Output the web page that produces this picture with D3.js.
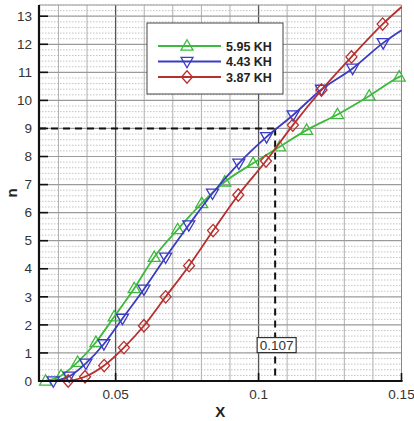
<!DOCTYPE html>
<html><head><meta charset="utf-8">
<script src="https://cdn.jsdelivr.net/npm/d3@7"></script>
<style>
html,body{margin:0;padding:0;background:#fff;}
svg{display:block;font-family:"Liberation Sans",Arial,sans-serif;}
</style></head>
<body><svg id="c" width="414" height="421"></svg>
<script>
// ---- data ----
const seriesNames = ["5.95 KH", "4.43 KH", "3.87 KH"];
const greenX = [0.0255,0.0309,0.0367,0.0431,0.0495,0.0565,0.0635,0.0717,0.0801,0.0882,0.0981,0.1074,0.1168,0.1276,0.1387,0.1492];
const greenN = [0.00,0.19,0.67,1.38,2.29,3.30,4.41,5.40,6.33,7.10,7.76,8.35,8.94,9.50,10.16,10.84];
const greenEnd = [0.15, 10.88];
const blueX = [0.0282,0.0338,0.0396,0.0459,0.0524,0.0599,0.0675,0.0756,0.0839,0.0931,0.1028,0.1121,0.1220,0.1329,0.1436];
const blueN = [0.00,0.17,0.63,1.32,2.23,3.27,4.41,5.56,6.69,7.76,8.70,9.48,10.39,11.14,12.05];
const blueEnd = [0.15, 12.50];
const redX = [0.0334,0.0393,0.0460,0.0529,0.0599,0.0675,0.0757,0.0841,0.0929,0.1026,0.1120,0.1220,0.1325,0.1434];
const redN = [0.00,0.15,0.55,1.19,1.97,3.00,4.11,5.36,6.63,7.84,9.12,10.37,11.55,12.72];
const redEnd = [0.15, 13.33];
const xTicks = [0.05, 0.1, 0.15];
const xTickLabels = ["0.05", "0.1", "0.15"];
const yTicks = [0,1,2,3,4,5,6,7,8,9,10,11,12,13];
const crossN = 9;
const crossX = 0.1058;
const crossLabel = "0.107";
const xDomain = [0.0232, 0.15];
const yDomain = [0, 13.4];

// ---- layout ----
const svg = d3.select("#c");
const L = 39, R = 401.5, T = 5, B = 381;
const x = d3.scaleLinear().domain(xDomain).range([L, R]);
const y = d3.scaleLinear().domain(yDomain).range([B, T]);
const colors = ["#3dba3d", "#3b3bc4", "#b8302e"];

const g = svg.append("g");
// minor horizontal dotted grid (0.2)
const minorY = d3.range(0, 13.41, 0.2).filter(v => Math.abs(v - Math.round(v)) > 1e-6);
g.selectAll(".mh").data(minorY).join("line")
  .attr("x1", L).attr("x2", R).attr("y1", d => y(d)).attr("y2", d => y(d))
  .attr("stroke", "#c4c4c4").attr("stroke-width", 1).attr("stroke-dasharray", "1.5,1.5");
// vertical grid every 0.01
const vGrid = d3.range(0.03, 0.1501, 0.01);
const isMajor = d => (Math.abs(d*100 % 5) < 1e-6 || Math.abs(d*100 % 5 - 5) < 1e-6) && d < 0.149;
g.selectAll(".vg").data(vGrid).join("line")
  .attr("x1", d => x(d)).attr("x2", d => x(d)).attr("y1", T).attr("y2", B)
  .attr("stroke", d => isMajor(d) ? "#555" : "#b0b0b0")
  .attr("stroke-width", d => isMajor(d) ? 1.3 : 1);
// horizontal integer grid
g.selectAll(".hg").data(yTicks.filter(v => v > 0)).join("line")
  .attr("x1", L).attr("x2", R).attr("y1", d => y(d)).attr("y2", d => y(d))
  .attr("stroke", "#9a9a9a").attr("stroke-width", 1.2);
// frame top/right
g.append("line").attr("x1", L).attr("x2", R).attr("y1", T).attr("y2", T).attr("stroke", "#999");
g.append("line").attr("x1", R).attr("x2", R).attr("y1", T).attr("y2", B).attr("stroke", "#888");

// dashed guide lines
g.append("line").attr("x1", L).attr("x2", x(crossX)).attr("y1", y(crossN)).attr("y2", y(crossN))
  .attr("stroke", "#111").attr("stroke-width", 2).attr("stroke-dasharray", "7,5");
g.append("line").attr("x1", x(crossX)).attr("x2", x(crossX)).attr("y1", y(crossN)).attr("y2", B)
  .attr("stroke", "#111").attr("stroke-width", 2).attr("stroke-dasharray", "7,5");

// series
const series = [
  {xs: greenX, ns: greenN, end: greenEnd, sym: "up"},
  {xs: blueX, ns: blueN, end: blueEnd, sym: "down"},
  {xs: redX, ns: redN, end: redEnd, sym: "diamond"}
];
const line = d3.line().x(d => x(d[0])).y(d => y(d[1])).curve(d3.curveMonotoneX);
function symPath(sym, s) {
  if (sym === "up") return `M0,${-s*0.62}L${s*0.6},${s*0.42}L${-s*0.6},${s*0.42}Z`;
  if (sym === "down") return `M0,${s*0.62}L${s*0.6},${-s*0.42}L${-s*0.6},${-s*0.42}Z`;
  return `M0,${-s*0.62}L${s*0.55},0L0,${s*0.62}L${-s*0.55},0Z`;
}
series.forEach((s, i) => {
  const pts = s.xs.map((v, k) => [v, s.ns[k]]);
  const lp = pts.slice();
  if (s.end[0] > pts[pts.length-1][0] + 1e-4) lp.push(s.end);
  g.append("path").attr("d", line(lp)).attr("fill", "none")
    .attr("stroke", colors[i]).attr("stroke-width", 1.8);
  g.selectAll(".m" + i).data(pts).join("path")
    .attr("transform", d => `translate(${x(d[0])},${y(d[1])})`)
    .attr("d", symPath(s.sym, 10)).attr("fill", "none")
    .attr("stroke", colors[i]).attr("stroke-width", 1.3);
});

// crossing label box
const lbx = x(crossX) + 1.5, lby = y(1.28);
g.append("rect").attr("x", lbx - 19.5).attr("y", lby - 7.5).attr("width", 39).attr("height", 15)
  .attr("fill", "#fff").attr("stroke", "#333").attr("stroke-width", 1.2);
g.append("text").attr("x", lbx).attr("y", lby + 5).attr("text-anchor", "middle")
  .attr("font-size", 13.5).attr("fill", "#333").text(crossLabel);

// axes
g.append("line").attr("x1", L).attr("x2", L).attr("y1", T).attr("y2", B + 1).attr("stroke", "#111").attr("stroke-width", 2.2);
g.append("line").attr("x1", L - 1).attr("x2", R + 1).attr("y1", B).attr("y2", B).attr("stroke", "#111").attr("stroke-width", 2.2);
g.selectAll(".yt").data(yTicks).join("line")
  .attr("x1", L).attr("x2", L + 9).attr("y1", d => y(d)).attr("y2", d => y(d))
  .attr("stroke", "#111").attr("stroke-width", 1.6);
g.selectAll(".ytl").data(yTicks).join("text")
  .attr("x", 32).attr("y", d => y(d) + 4.7).attr("text-anchor", "end")
  .attr("font-size", 13.5).attr("fill", "#333").text(d => d);
g.selectAll(".xt").data(xTicks).join("line")
  .attr("x1", d => x(d)).attr("x2", d => x(d)).attr("y1", B).attr("y2", B - 8)
  .attr("stroke", "#111").attr("stroke-width", 1.6);
g.selectAll(".xtl").data(xTicks).join("text")
  .attr("x", d => x(d)).attr("y", 399).attr("text-anchor", "middle")
  .attr("font-size", 13.5).attr("fill", "#333").text((d, i) => xTickLabels[i]);

// axis titles
svg.append("text").attr("x", (L + R) / 2).attr("y", 417).attr("text-anchor", "middle")
  .attr("font-size", 15).attr("font-weight", "bold").attr("fill", "#222").text("X");
svg.append("text").attr("transform", `translate(17,193) rotate(-90)`).attr("text-anchor", "middle")
  .attr("font-size", 15).attr("font-weight", "bold").attr("fill", "#222").text("n");

// legend
const lg = svg.append("g");
lg.append("rect").attr("x", 147).attr("y", 23).attr("width", 136).attr("height", 71)
  .attr("fill", "#fff").attr("stroke", "#444").attr("stroke-width", 1);
seriesNames.forEach((name, i) => {
  const ly = 46 + i * 15.5;
  lg.append("line").attr("x1", 158).attr("x2", 221).attr("y1", ly).attr("y2", ly)
    .attr("stroke", colors[i]).attr("stroke-width", 2.2);
  lg.append("path").attr("transform", `translate(187,${ly})`).attr("d", symPath(series[i].sym, 10))
    .attr("fill", "none").attr("stroke", colors[i]).attr("stroke-width", 1.3);
  lg.append("text").attr("x", 226).attr("y", ly + 4.5).attr("font-size", 12.5).attr("font-weight", "bold")
    .attr("fill", "#222").text(name);
});
</script></body></html>
